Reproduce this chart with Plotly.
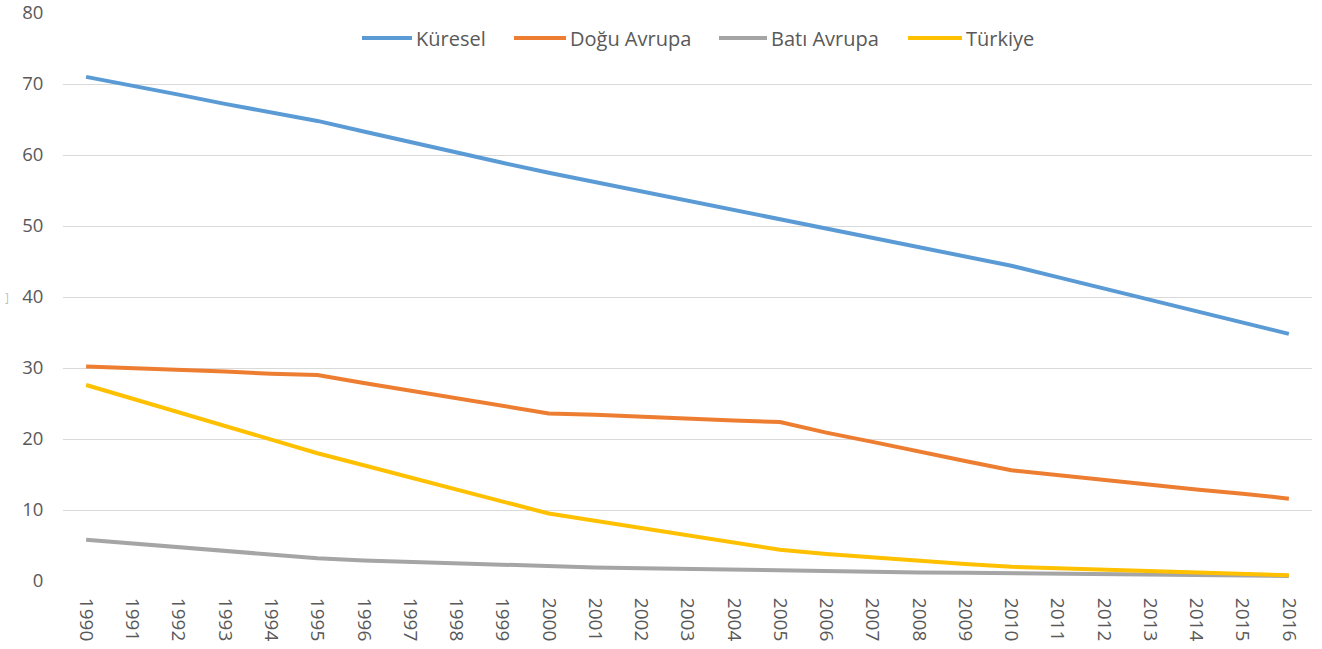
import plotly.graph_objects as go

years = [str(y) for y in range(1990, 2017)]

kuresel = [71.0, 69.8, 68.5, 67.2, 66.0, 64.8, 63.3, 61.8, 60.3, 58.9, 57.5,
           56.2, 54.9, 53.6, 52.3, 51.0, 49.6, 48.3, 47.0, 45.7, 44.4,
           42.8, 41.2, 39.6, 38.0, 36.4, 34.8]
dogu_avrupa = [30.2, 30.0, 29.7, 29.5, 29.2, 29.0, 27.9, 26.8, 25.7, 24.6, 23.6,
               23.4, 23.1, 22.9, 22.6, 22.4, 20.9, 19.6, 18.2, 16.9, 15.6,
               14.9, 14.2, 13.6, 12.9, 12.3, 11.6]
bati_avrupa = [5.8, 5.3, 4.8, 4.2, 3.7, 3.2, 2.9, 2.7, 2.4, 2.2, 2.0,
               1.9, 1.8, 1.7, 1.6, 1.5, 1.3, 1.25, 1.2, 1.15, 1.1,
               1.0, 0.95, 0.9, 0.85, 0.8, 0.7]
turkiye = [27.6, 25.7, 23.8, 21.9, 19.9, 18.0, 16.3, 14.6, 12.9, 11.2, 9.5,
           8.5, 7.5, 6.4, 5.4, 4.4, 3.8, 3.3, 2.8, 2.4, 2.0,
           1.8, 1.6, 1.4, 1.2, 1.0, 0.8]

names = ["Küresel", "Doğu Avrupa", "Batı Avrupa", "Türkiye"]
colors = ["#5B9BD5", "#ED7D31", "#A5A5A5", "#FFC000"]
values = [kuresel, dogu_avrupa, bati_avrupa, turkiye]

W, H = 1322, 649
L, R, T, B = 63, 10, 13, 68
TEXT = "#595959"
FONT = "Open Sans, Noto Sans, sans-serif"

fig = go.Figure()
for name, vals, color in zip(names, values, colors):
    fig.add_trace(go.Scatter(
        x=years, y=vals, name=name, mode="lines",
        line=dict(color=color, width=4),
    ))

fig.update_layout(
    width=W, height=H,
    margin=dict(l=L, r=R, t=T, b=B, autoexpand=False),
    paper_bgcolor="white", plot_bgcolor="white",
    font=dict(family=FONT, color=TEXT, size=19),
    showlegend=False,
    xaxis=dict(type="category", range=[-0.5, len(years) - 0.5], automargin=False,
               tickangle=90, showgrid=False, zeroline=False, showline=False,
               ticks="outside", ticklen=12, tickcolor="rgba(0,0,0,0)",
               ticklabeloverflow="allow",
               tickfont=dict(size=19, color=TEXT)),
    yaxis=dict(range=[0, 80], dtick=10, automargin=False, showgrid=True,
               gridcolor="#D9D9D9", gridwidth=1, zeroline=False, showline=False,
               ticks="outside", ticklen=15, tickcolor="rgba(0,0,0,0)",
               ticklabeloverflow="allow",
               tickfont=dict(size=18.5, color=TEXT)),
)

# custom legend (keys + labels), positioned in pixels converted to paper coords
plot_w = W - L - R
plot_h = H - T - B
legend_y_px = 38
legend_line_px = [(362, 412), (514, 566), (719, 767), (908, 962)]
ly = 1 - (legend_y_px - T) / plot_h
for (x0, x1), name, color in zip(legend_line_px, names, colors):
    fig.add_shape(type="line", xref="paper", yref="paper",
                  x0=(x0 - L) / plot_w, x1=(x1 - L) / plot_w, y0=ly, y1=ly,
                  line=dict(color=color, width=4))
    fig.add_annotation(text=name, xref="paper", yref="paper",
                       x=(x1 + 2 - L) / plot_w, y=ly, xanchor="left", yanchor="middle",
                       showarrow=False, font=dict(size=20, color=TEXT))

fig.add_annotation(text="]", x=0.0, xref="paper", xanchor="left", xshift=-60,
                   y=40, yref="y", showarrow=False,
                   font=dict(size=12, color="#BFBFBF"))

fig.write_html(
    "out.html",
    config={"displayModeBar": False},
    post_script="document.body.style.margin='0px';document.body.style.overflow='hidden';",
)
